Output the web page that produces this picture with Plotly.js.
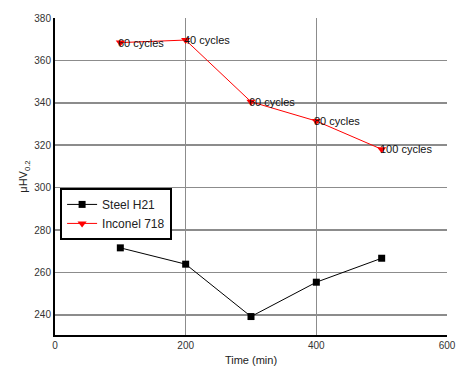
<!DOCTYPE html>
<html>
<head>
<meta charset="utf-8">
<script src="https://cdn.plot.ly/plotly-3.0.1.min.js"></script>
<style>html,body{margin:0;padding:0;background:#fff;}#chart{width:457px;height:371px;}</style>
</head>
<body>
<div id="chart"></div>
<script>
var timeMin = [100, 200, 300, 400, 500];
var steelH21 = [271.6, 263.9, 239.2, 255.4, 266.7];
var inconel718 = [368.4, 369.6, 340.5, 331.4, 318.1];
var cycleLabels = ["60 cycles", "40 cycles", "60 cycles", "80 cycles", "100 cycles"];
var xTicks = [0, 200, 400, 600];
var yTicks = [240, 260, 280, 300, 320, 340, 360, 380];
var xGrid = [200, 400];
var yGrid = [240, 260, 280, 300, 320, 340, 360];

var traces = [
  {x: timeMin, y: steelH21, name: 'Steel H21', type: 'scatter', mode: 'lines+markers',
   line: {color: '#000', width: 1}, marker: {symbol: 'square', size: 7, color: '#000'}},
  {x: timeMin, y: inconel718, name: 'Inconel 718', type: 'scatter', mode: 'lines+markers',
   line: {color: '#ff0000', width: 1}, marker: {symbol: 'triangle-down', size: 8, color: '#ff0000'}},
  {x: [0], y: [230], xaxis: 'x2', yaxis: 'y2', mode: 'markers', marker: {opacity: 0},
   showlegend: false, hoverinfo: 'skip'}
];

var annotations = timeMin.map(function (t, i) {
  return {x: t, y: inconel718[i], xref: 'x', yref: 'y', text: cycleLabels[i],
    showarrow: false, xanchor: 'left', yanchor: 'middle', xshift: -4,
    font: {family: 'Liberation Sans, Arial, sans-serif', size: 11, color: '#111'}};
});

var layout = {
  width: 457, height: 371,
  margin: {l: 55, r: 10, t: 18, b: 36},
  paper_bgcolor: '#fff', plot_bgcolor: '#fff',
  font: {family: 'Liberation Sans, Arial, sans-serif', size: 10, color: '#333'},
  showlegend: true,
  legend: {x: 0.013, y: 0.464, xanchor: 'left', yanchor: 'top', bgcolor: '#fff',
    bordercolor: '#000', borderwidth: 2, font: {size: 12, color: '#222'},
    tracegroupgap: 0, itemwidth: 30},
  xaxis: {range: [0, 600], tickvals: xTicks, showgrid: false, zeroline: false,
    showline: true, linecolor: '#000', linewidth: 2, ticks: '', ticklen: 0,
    title: {text: 'Time (min)', font: {size: 11, color: '#222'}, standoff: 6}},
  yaxis: {range: [230.5, 380], tickvals: yTicks, showgrid: false, zeroline: false,
    showline: true, linecolor: '#000', linewidth: 2, ticks: '', ticklen: 0,
    title: {text: 'μHV<sub>0.2</sub>', font: {size: 11, color: '#222'}, standoff: 4}},
  xaxis2: {overlaying: 'x', matches: 'x', tickvals: xGrid, showticklabels: false,
    showgrid: true, gridcolor: '#8c8c8c', gridwidth: 1.5, zeroline: false, showline: false},
  yaxis2: {overlaying: 'y', matches: 'y', tickvals: yGrid, showticklabels: false,
    showgrid: true, gridcolor: '#8c8c8c', gridwidth: 1.5, zeroline: false, showline: false},
  annotations: annotations
};

Plotly.newPlot('chart', traces, layout, {displayModeBar: false, staticPlot: true});
</script>
</body>
</html>
